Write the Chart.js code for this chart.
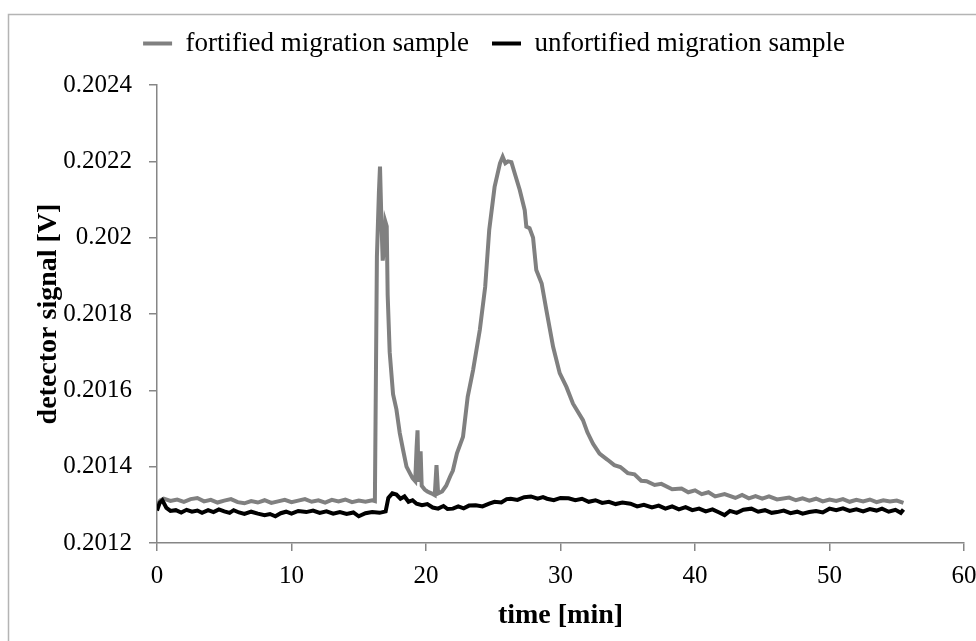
<!DOCTYPE html>
<html lang="en">
<head>
    <meta charset="UTF-8">
    <title>detector signal</title>
    <script src="https://cdn.jsdelivr.net/npm/chart.js@4.4.0/dist/chart.umd.min.js"></script>
    <style>
        html, body { margin: 0; padding: 0; background: #fff; }
        #wrap { width: 976px; height: 641px; }
    </style>
</head>
<body>
<div id="wrap"><canvas id="sig"></canvas></div>
<script>
    // fortified migration sample (grey), ten points per row
    var fortTime = [
        0, 0.25, 0.5, 1, 1.5, 2, 2.5, 3, 3.5, 4,
        4.5, 5, 5.5, 6, 6.5, 7, 7.5, 8, 8.5, 9,
        9.5, 10, 10.5, 11, 11.5, 12, 12.5, 13, 13.5, 14,
        14.5, 15, 15.5, 16, 16.2, 16.35, 16.5, 16.58, 16.68, 16.78,
        16.88, 16.98, 17.08, 17.15, 17.3, 17.55, 17.8, 18.05, 18.3, 18.55,
        18.8, 19, 19.2, 19.3, 19.37, 19.45, 19.6, 19.68, 19.9, 20.1,
        20.4, 20.65, 20.78, 20.9, 21.2, 21.5, 21.8, 22, 22.3, 22.75,
        23.1, 23.5, 24, 24.4, 24.7, 25.1, 25.5, 25.7, 25.9, 26.1,
        26.35, 26.6, 26.97, 27.34, 27.46, 27.7, 27.96, 28.2, 28.6, 28.95,
        29.45, 29.94, 30.44, 30.93, 31.67, 32, 32.42, 32.9, 33.5, 34,
        34.45, 35, 35.5, 36, 36.4, 37, 37.5, 38.3, 39, 39.5,
        40, 40.5, 41, 41.5, 42.2, 43, 43.5, 44, 44.5, 45,
        45.5, 46.1, 47, 47.5, 48, 48.5, 49, 49.5, 50, 50.5,
        51, 51.5, 52, 52.5, 53, 53.5, 54, 54.5, 55, 55.5
    ];
    var fortSignal = [
        0.20130, 0.201312, 0.201316, 0.201310, 0.201314, 0.201308, 0.201315, 0.201318, 0.201309, 0.201313,
        0.201306, 0.201311, 0.201315, 0.201307, 0.201304, 0.201310, 0.201306, 0.201312, 0.201305, 0.201309,
        0.201313, 0.201307, 0.201311, 0.201315, 0.201308, 0.201312, 0.201306, 0.201313, 0.201309, 0.201314,
        0.201307, 0.201311, 0.201308, 0.201312, 0.201310, 0.20195, 0.20212, 0.202186, 0.20205, 0.20194,
        0.20197, 0.202042, 0.20203, 0.20185, 0.20170, 0.20159, 0.20155, 0.201488, 0.201443, 0.20140,
        0.201383, 0.20137, 0.201362, 0.20145, 0.201495, 0.20136, 0.20144, 0.20135, 0.20134, 0.201335,
        0.20133, 0.201325, 0.201404, 0.20133, 0.201335, 0.20135, 0.201375, 0.20139, 0.201435, 0.201478,
        0.201583, 0.201653, 0.201758, 0.201871, 0.20202, 0.202133, 0.202195, 0.202212, 0.202195, 0.2022,
        0.202198, 0.202168, 0.202125, 0.202072, 0.202029, 0.202025, 0.202, 0.201915, 0.20188, 0.20181,
        0.201714, 0.201645, 0.201609, 0.201565, 0.201522, 0.20149, 0.20146, 0.201434, 0.201418, 0.201404,
        0.201399, 0.201383, 0.20138, 0.201363, 0.201362, 0.201352, 0.201355, 0.201341, 0.201343, 0.201333,
        0.201338, 0.201328, 0.201333, 0.201322, 0.201328, 0.201318, 0.201326, 0.201317, 0.201323, 0.201316,
        0.201322, 0.201314, 0.201319, 0.201312, 0.201317, 0.201311, 0.201316, 0.201309, 0.201314, 0.20131,
        0.201315, 0.201308, 0.201313, 0.201309, 0.201314, 0.201307, 0.201312, 0.201309, 0.201311, 0.201305
    ];

    // unfortified migration sample (black)
    var unfortTime = [
        0, 0.2, 0.4, 0.7, 1, 1.4, 1.8, 2.2, 2.6, 3,
        3.35, 3.8, 4.2, 4.6, 5, 5.4, 5.7, 6.1, 6.5, 7,
        7.5, 8, 8.4, 8.8, 9.2, 9.6, 10, 10.5, 11.1, 11.6,
        12.1, 12.6, 13.1, 13.6, 14.1, 14.6, 15, 15.5, 16, 16.55,
        17, 17.2, 17.5, 17.8, 18.1, 18.4, 18.7, 19, 19.3, 19.7,
        20.1, 20.5, 20.9, 21.3, 21.6, 22, 22.4, 22.8, 23.2, 23.7,
        24.2, 24.7, 25.1, 25.6, 26, 26.3, 26.8, 27.3, 27.8, 28.3,
        28.7, 29, 29.5, 30, 30.6, 31.1, 31.6, 32.1, 32.6, 33.1,
        33.6, 34.1, 34.6, 35.2, 35.7, 36.2, 36.8, 37.3, 37.8, 38.3,
        38.8, 39.3, 39.8, 40.3, 40.8, 41.3, 41.8, 42.2, 42.6, 43.1,
        43.6, 44.2, 44.7, 45.2, 45.7, 46.1, 46.6, 47.1, 47.6, 48,
        48.5, 49, 49.5, 50, 50.5, 51, 51.5, 52, 52.5, 53,
        53.5, 53.9, 54.4, 54.9, 55.3, 55.5
    ];
    var unfortSignal = [
        0.201285, 0.201305, 0.201312, 0.201292, 0.201284, 0.201286, 0.20128, 0.201287, 0.201282, 0.201285,
        0.201279, 0.201286, 0.201281, 0.201288, 0.201283, 0.201279, 0.201286, 0.20128, 0.201276, 0.201282,
        0.201277, 0.201273, 0.201276, 0.20127, 0.201278, 0.201282, 0.201277, 0.201284, 0.201281, 0.201285,
        0.201279, 0.201283, 0.201277, 0.201281, 0.201276, 0.20128, 0.20127, 0.201278, 0.201281, 0.201279,
        0.201283, 0.201318, 0.20133, 0.201327, 0.201316, 0.201322, 0.201308, 0.201312, 0.201303, 0.201299,
        0.201302, 0.201293, 0.20129, 0.201297, 0.201289, 0.20129, 0.201296, 0.201291, 0.201298, 0.201299,
        0.201296, 0.201303, 0.201308, 0.201306, 0.201315, 0.201316, 0.201313, 0.20132, 0.201322, 0.201316,
        0.20132, 0.201316, 0.201312, 0.201318, 0.201317, 0.201312, 0.201316, 0.201308, 0.201312, 0.201305,
        0.201308, 0.201302, 0.201306, 0.201303, 0.201296, 0.2013, 0.201293, 0.201298, 0.20129, 0.201296,
        0.201288, 0.201294, 0.201286, 0.20129, 0.201283, 0.201288, 0.20128, 0.201273, 0.201284, 0.201279,
        0.201287, 0.20129, 0.201282, 0.201286, 0.201279, 0.201281, 0.201285, 0.201278, 0.201282, 0.201277,
        0.201281, 0.201284, 0.20128, 0.20129, 0.201286, 0.201291, 0.201284, 0.201288, 0.201283, 0.201289,
        0.201285, 0.20129, 0.201282, 0.201287, 0.201279, 0.201288
    ];

    var xTicks = [0, 10, 20, 30, 40, 50, 60];
    var yTicks = [0.2012, 0.2014, 0.2016, 0.2018, 0.202, 0.2022, 0.2024];

    function toPoints(xs, ys) {
        return xs.map(function (x, i) { return {x: x, y: ys[i]}; });
    }

    var FONT = "'Liberation Serif', 'Times New Roman', serif";
    var AXIS = '#868686';

    // light frame round the chart, legend nudged up a little
    var frame = {
        id: 'frame',
        afterLayout: function (chart) {
            var lg = chart.legend;
            if (lg) { lg.top -= 18; lg.bottom -= 18; }
        },
        beforeDraw: function (chart) {
            var c = chart.ctx;
            c.save();
            c.fillStyle = '#fff';
            c.fillRect(0, 0, chart.width, chart.height);
            c.strokeStyle = '#b4b4b4';
            c.lineWidth = 1.5;
            c.strokeRect(8.5, 14.5, chart.width + 20, chart.height + 20);
            c.restore();
        }
    };

    var chart = new Chart(document.getElementById('sig'), {
        type: 'scatter',
        data: {
            datasets: [{
                label: 'fortified migration sample',
                data: toPoints(fortTime, fortSignal),
                borderColor: '#808080',
                backgroundColor: '#808080',
                borderWidth: 4,
                showLine: true,
                pointRadius: 0,
                order: 1
            }, {
                label: 'unfortified migration sample',
                data: toPoints(unfortTime, unfortSignal),
                borderColor: '#000000',
                backgroundColor: '#000000',
                borderWidth: 4,
                showLine: true,
                pointRadius: 0,
                order: 0
            }]
        },
        options: {
            responsive: true,
            maintainAspectRatio: false,
            animation: false,
            layout: {padding: {top: 6, right: 0, left: 12, bottom: 0}},
            plugins: {
                tooltip: {enabled: false},
                legend: {
                    position: 'top',
                    labels: {
                        color: '#000',
                        font: {family: FONT, size: 27},
                        boxWidth: 29,
                        boxHeight: 4,
                        padding: 23,
                        sort: function (a, b) { return a.datasetIndex - b.datasetIndex; },
                        generateLabels: function (ch) {
                            var items = Chart.defaults.plugins.legend.labels.generateLabels(ch);
                            items.forEach(function (it) { it.lineWidth = 0; });
                            return items;
                        }
                    }
                }
            },
            scales: {
                x: {
                    type: 'linear',
                    min: 0,
                    max: 60,
                    afterBuildTicks: function (s) { s.ticks = xTicks.map(function (v) { return {value: v}; }); },
                    afterFit: function (s) { s.height = 98; s.paddingRight = 12; },
                    border: {color: AXIS, width: 1.5},
                    grid: {display: true, drawOnChartArea: false, tickLength: 8, color: AXIS, lineWidth: 1.5},
                    ticks: {color: '#000', font: {family: FONT, size: 25}, padding: 10, maxRotation: 0},
                    title: {
                        display: true,
                        text: 'time [min]',
                        color: '#000',
                        font: {family: FONT, size: 28, weight: 'bold'},
                        padding: {top: 4, bottom: 8}
                    }
                },
                y: {
                    min: 0.2012,
                    max: 0.2024,
                    afterBuildTicks: function (s) { s.ticks = yTicks.map(function (v) { return {value: v}; }); },
                    afterFit: function (s) { s.width = 145; s.paddingTop = 85; },
                    border: {color: AXIS, width: 1.5},
                    grid: {display: true, drawOnChartArea: false, tickLength: 8, color: AXIS, lineWidth: 1.5},
                    ticks: {
                        color: '#000',
                        font: {family: FONT, size: 25},
                        padding: 17,
                        callback: function (v) { return String(parseFloat(v.toFixed(4))); }
                    },
                    title: {
                        display: true,
                        text: 'detector signal [V]',
                        color: '#000',
                        font: {family: FONT, size: 28, weight: 'bold'},
                        padding: {top: 20, bottom: 0}
                    }
                }
            }
        },
        plugins: [frame]
    });
</script>
</body>
</html>
